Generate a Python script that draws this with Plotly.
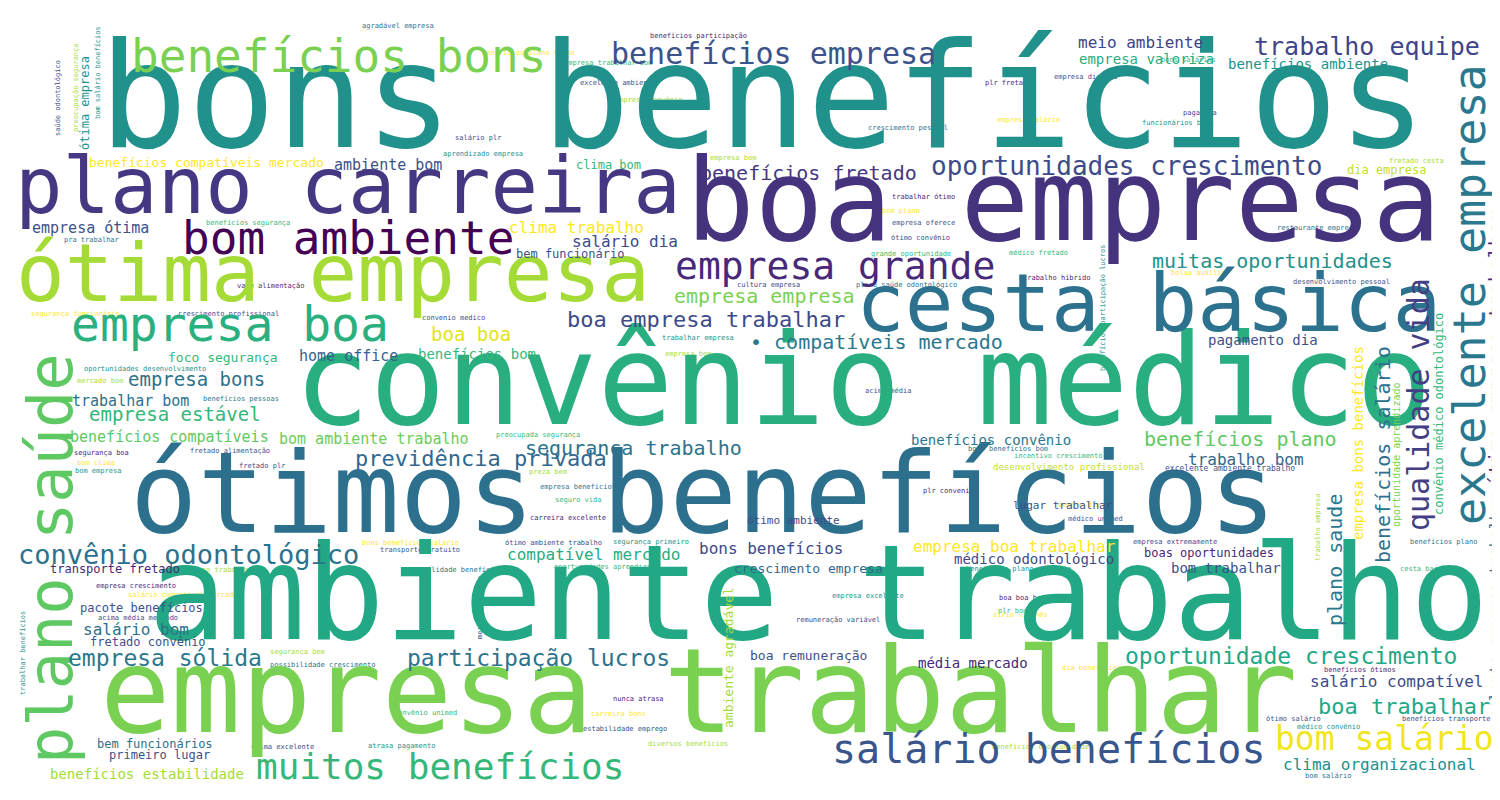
"""Word cloud of employee review bigrams, rebuilt with plotly annotations."""

import plotly.graph_objects as go

# main terms: text, weight (font px), centre x, centre y, rotation, colour
words = [
    "bons benefícios", "ambiente trabalho", "convênio médico", "empresa trabalhar",
    "boa empresa", "ótimos benefícios", "ótima empresa", "cesta básica",
    "plano carreira", "plano saúde", "empresa boa", "bom ambiente",
    "benefícios bons", "excelente empresa", "salário benefícios", "empresa grande",
    "muitos benefícios", "bom salário", "benefícios empresa", "qualidade vida",
    "convênio odontológico", "oportunidades crescimento", "trabalho equipe",
    "oportunidade crescimento", "participação lucros", "empresa sólida",
    "boa empresa trabalhar", "boa trabalhar", "benefícios fretado", "empresa empresa",
    "• compatíveis mercado", "muitas oportunidades", "benefícios plano", "plano saude",
    "benefícios salário", "ótima empresa trabalhar", "segurança trabalho",
    "previdência privada", "empresa bons", "empresa estável", "benefícios compatíveis",
    "bom ambiente trabalho", "trabalhar bom", "foco segurança", "home office",
    "benefícios bom", "boa boa", "clima trabalho", "salário dia", "bem funcionário",
    "empresa ótima", "benefícios compatíveis mercado", "ambiente bom", "clima bom",
    "meio ambiente", "empresa valoriza", "benefícios ambiente", "dia empresa",
    "pagamento dia", "benefícios convênio", "trabalho bom", "empresa boa trabalhar",
    "médico odontológico", "boas oportunidades", "bom trabalhar",
    "empresa bons benefícios", "oportunidade aprendizado", "convênio médico odontológico",
    "excelente empresa trabalhar", "média mercado", "salário compatível",
    "clima organizacional", "compatível mercado", "bons benefícios",
    "crescimento empresa", "transporte fretado", "pacote benefícios", "salário bom",
    "fretado convênio", "bem funcionários", "primeiro lugar", "benefícios estabilidade",
    "boa remuneração", "ambiente agradável", "desenvolvimento profissional",
    "excelente ambiente trabalho", "lugar trabalhar", "ótimo ambiente", "ótima empresa",
]
weights = [
    147, 131, 126, 117,
    114, 112, 81, 81,
    79, 62, 48, 46,
    46, 45, 40, 38,
    36, 33, 30, 30,
    27, 26, 25,
    23, 23, 23,
    22, 22, 20, 20,
    20, 20, 20, 20,
    20, 20, 20,
    22, 19, 19, 15,
    15, 15, 13, 15,
    14, 19, 16, 16, 12,
    15, 13, 15, 12,
    16, 14, 14, 12,
    14, 14, 16, 16,
    14, 12, 14,
    14, 10, 12,
    15, 14, 16,
    16, 16, 16,
    13, 12, 12, 16,
    12, 12, 12, 14,
    13, 13, 9,
    8, 11, 11, 12,
]
xs = [
    755, 810, 855, 690,
    1055, 695, 325, 1140,
    340, 42, 222, 340,
    330, 1461, 1040, 827,
    432, 1376, 765, 1410,
    180, 1118, 1359,
    1283, 530, 157,
    698, 1396, 800, 756,
    868, 1264, 1232, 1327,
    1375, 1488, 625,
    473, 188, 167, 161,
    366, 122, 215, 340,
    469, 463, 568, 617, 562,
    82, 198, 380, 600,
    1132, 1138, 1300, 1378,
    1255, 983, 1238, 1006,
    1026, 1201, 1218,
    1350, 1388, 1431,
    1488, 965, 1388,
    1371, 585, 763,
    800, 107, 133, 128,
    140, 147, 151, 139,
    800, 720, 1061,
    1222, 1055, 785, 77,
]
ys = [
    88, 585, 372, 683,
    192, 485, 265, 295,
    178, 551, 316, 230,
    48, 287, 741, 258,
    758, 730, 45, 397,
    546, 158, 38,
    648, 650, 650,
    311, 698, 165, 288,
    334, 253, 431, 552,
    447, 341, 440,
    450, 371, 406, 429,
    431, 393, 349, 348,
    346, 326, 219, 233, 246,
    220, 154, 157, 157,
    34, 51, 56, 162,
    332, 432, 451, 538,
    551, 545, 560,
    435, 447, 406,
    607, 655, 673,
    756, 546, 540,
    560, 561, 600, 621,
    634, 736, 747, 766,
    647, 650, 459,
    460, 497, 512, 95,
]
angles = [
    0, 0, 0, 0,
    0, 0, 0, 0,
    0, -90, 0, 0,
    0, -90, 0, 0,
    0, 0, 0, -90,
    0, 0, 0,
    0, 0, 0,
    0, 0, 0, 0,
    0, 0, 0, -90,
    -90, -90, 0,
    0, 0, 0, 0,
    0, 0, 0, 0,
    0, 0, 0, 0, 0,
    0, 0, 0, 0,
    0, 0, 0, 0,
    0, 0, 0, 0,
    0, 0, 0,
    -90, -90, -90,
    -90, 0, 0,
    0, 0, 0,
    0, 0, 0, 0,
    0, 0, 0, 0,
    0, -90, 0,
    0, 0, 0, -90,
]
colors = [
    "#21918c", "#22a884", "#29af7f", "#7ad151",
    "#46337e", "#2d708e", "#a5db36", "#2c728e",
    "#453781", "#5ec962", "#2ab07f", "#440154",
    "#7ad151", "#2a788e", "#39568c", "#482878",
    "#35b779", "#f1e51d", "#3b528b", "#433e85",
    "#2c728e", "#3e4a89", "#414487",
    "#22a884", "#2c728e", "#2a788e",
    "#3e4a89", "#22a884", "#453781", "#7ad151",
    "#2a788e", "#21918c", "#5ec962", "#2a788e",
    "#2d708e", "#482878", "#2c728e",
    "#31688e", "#2c728e", "#35b779", "#5ec962",
    "#6ccd5a", "#2c728e", "#35b779", "#33638d",
    "#35b779", "#e2e418", "#fde725", "#3e4a89", "#3b528b",
    "#3b528b", "#fde725", "#3b528b", "#35b779",
    "#414487", "#27ad81", "#21918c", "#c2df23",
    "#3b528b", "#2a788e", "#31688e", "#fde725",
    "#3e4a89", "#482878", "#3b528b",
    "#fde725", "#7ad151", "#35b779",
    "#2c728e", "#482878", "#3e4a89",
    "#21918c", "#27ad81", "#3e4a89",
    "#31688e", "#482878", "#3b528b", "#2c728e",
    "#3b528b", "#2c728e", "#3b528b", "#a5db36",
    "#3b528b", "#a5db36", "#c2df23",
    "#3b528b", "#3b528b", "#3e4a89", "#21918c",
]

# rare terms, all drawn at the smallest size
small_words = [
    "saúde odontológico", "bom salário benefícios", "preocupação segurança",
    "agradável empresa", "empresa trabalhar bom", "benefícios participação",
    "benefícios plano saúde", "excelente ambiente", "salário plr", "aprendizado empresa",
    "empresa convênio", "crescimento pessoal", "bons salários", "plr fretado",
    "empresa salário", "empresa diversa", "paga dia", "funcionários bons",
    "fretado cesta", "restaurante empresa", "médico fretado", "trabalho híbrido",
    "bolsa auxílio", "desenvolvimento pessoal", "cultura empresa", "trabalhar empresa",
    "empresa bom", "plano saúde odontológico", "grande oportunidade", "trabalhar ótimo",
    "bom plano", "empresa oferece", "ótimo convênio", "benefícios participação lucros",
    "empresa bom", "pra trabalhar", "benefícios segurança", "vale alimentação",
    "segurança funcionário", "crescimento profissional", "convenio medico",
    "oportunidades desenvolvimento", "mercado bom", "benefícios pessoas",
    "preocupada segurança", "segurança boa", "bom clima", "fretado alimentação",
    "fretado plr", "bom empresa", "preza bem", "empresa beneficios", "seguro vida",
    "carreira excelente", "bons benefícios salário", "transporte gratuito",
    "ótimo ambiente trabalho", "segurança primeiro", "seguro trabalhar",
    "estabilidade benefícios", "oportunidades aprendizado", "empresa crescimento",
    "salário compatível mercado", "mercado cultura", "acima média mercado",
    "trabalhar benefícios", "segurança bem", "possibilidade crescimento",
    "convênio unimed", "nunca atrasa", "carreira bons", "estabilidade emprego",
    "clima excelente", "atrasa pagamento", "diversos benefícios", "bons benefícios bom",
    "incentivo crescimento", "plr convenio", "sempre dia", "médico unimed",
    "empresa extremamente", "benefícios plano carreira", "trabalho empresa",
    "benefícios plano", "cesta basica", "benefícios ótimos", "dia benefícios",
    "ótimo salário", "benefícios transporte", "médico convênio",
    "benefícios oportunidades", "bom salário", "plr bom", "boa boa boa",
    "sírio libanês", "acima média", "remuneração variável", "empresa excelente",
]
small_x = [
    50, 90, 68,
    390, 600, 690,
    520, 610, 470, 475,
    640, 900, 1180, 1000,
    1020, 1077, 1192, 1170,
    1408, 1309, 1030, 1048,
    1190, 1333, 760, 690,
    680, 898, 903, 915,
    893, 915, 912, 1095,
    725, 83, 240, 262,
    67, 220, 445,
    137, 92, 233,
    530, 93, 88, 222,
    254, 90, 540, 570, 570,
    560, 402, 412,
    545, 643, 210,
    446, 598, 128,
    175, 472, 130,
    15, 289, 314,
    417, 630, 610, 617,
    274, 393, 680, 1000,
    1050, 940, 1071, 1087,
    1167, 1010, 1310,
    1435, 1417, 1352, 1083,
    1285, 1438, 1320,
    1034, 1320, 1005, 1014,
    1012, 880, 830, 860,
]
small_y = [
    90, 65, 80,
    18, 55, 28,
    45, 75, 130, 146,
    92, 120, 52, 75,
    112, 69, 105, 115,
    153, 220, 245, 270,
    265, 274, 277, 330,
    346, 277, 246, 189,
    203, 215, 230, 300,
    150, 232, 215, 278,
    306, 306, 310,
    361, 373, 391,
    427, 445, 455, 443,
    458, 463, 464, 479, 492,
    510, 535, 542,
    535, 534, 562,
    562, 559, 578,
    587, 600, 610,
    645, 644, 657,
    705, 691, 706, 721,
    739, 738, 736, 441,
    448, 483, 497, 511,
    534, 561, 520,
    534, 561, 662, 660,
    711, 711, 719,
    739, 768, 603, 590,
    607, 383, 612, 588,
]
small_rot = [
    -90, -90, -90, 0, 0, 0, 0, 0, 0, 0, 0, 0, 0, 0, 0, 0, 0, 0, 0, 0, 0, 0,
    0, 0, 0, 0, 0, 0, 0, 0, 0, 0, 0, -90, 0, 0, 0, 0, 0, 0, 0, 0, 0, 0,
    0, 0, 0, 0, 0, 0, 0, 0, 0, 0, 0, 0, 0, 0, 0, 0, 0, 0, 0, -90, 0,
    -90, 0, 0, 0, 0, 0, 0, 0, 0, 0, 0, 0, 0, 0, 0, 0, 0, -90, 0, 0, 0, 0,
    0, 0, 0, 0, 0, 0, 0, 0, 0, 0, 0,
]
palette = ["#3e4a89", "#21918c", "#a5db36", "#2c728e", "#35b779", "#482878", "#fde725", "#3b528b"]

FONT = "DejaVu Sans Mono"

fig = go.Figure()
# invisible anchor trace so the axes exist
fig.add_trace(go.Scatter(x=xs, y=ys, mode="markers", marker=dict(opacity=0), hoverinfo="skip"))

for i, (w, x, y, a) in enumerate(zip(small_words, small_x, small_y, small_rot)):
    fig.add_annotation(
        x=x, y=y, text=w, showarrow=False, textangle=a,
        xanchor="center", yanchor="middle",
        font=dict(family=FONT, size=7, color=palette[i % len(palette)]),
    )

for w, s, x, y, a, c in zip(words, weights, xs, ys, angles, colors):
    fig.add_annotation(
        x=x, y=y, text=w, showarrow=False, textangle=a,
        xanchor="center", yanchor="middle",
        font=dict(family=FONT, size=s, color=c),
    )

fig.update_xaxes(range=[0, 1500], visible=False)
fig.update_yaxes(range=[800, 0], visible=False)
fig.update_layout(
    width=1500, height=800,
    margin=dict(l=0, r=0, t=0, b=0),
    paper_bgcolor="white", plot_bgcolor="white",
    showlegend=False,
)

fig.write_html("out.html")
